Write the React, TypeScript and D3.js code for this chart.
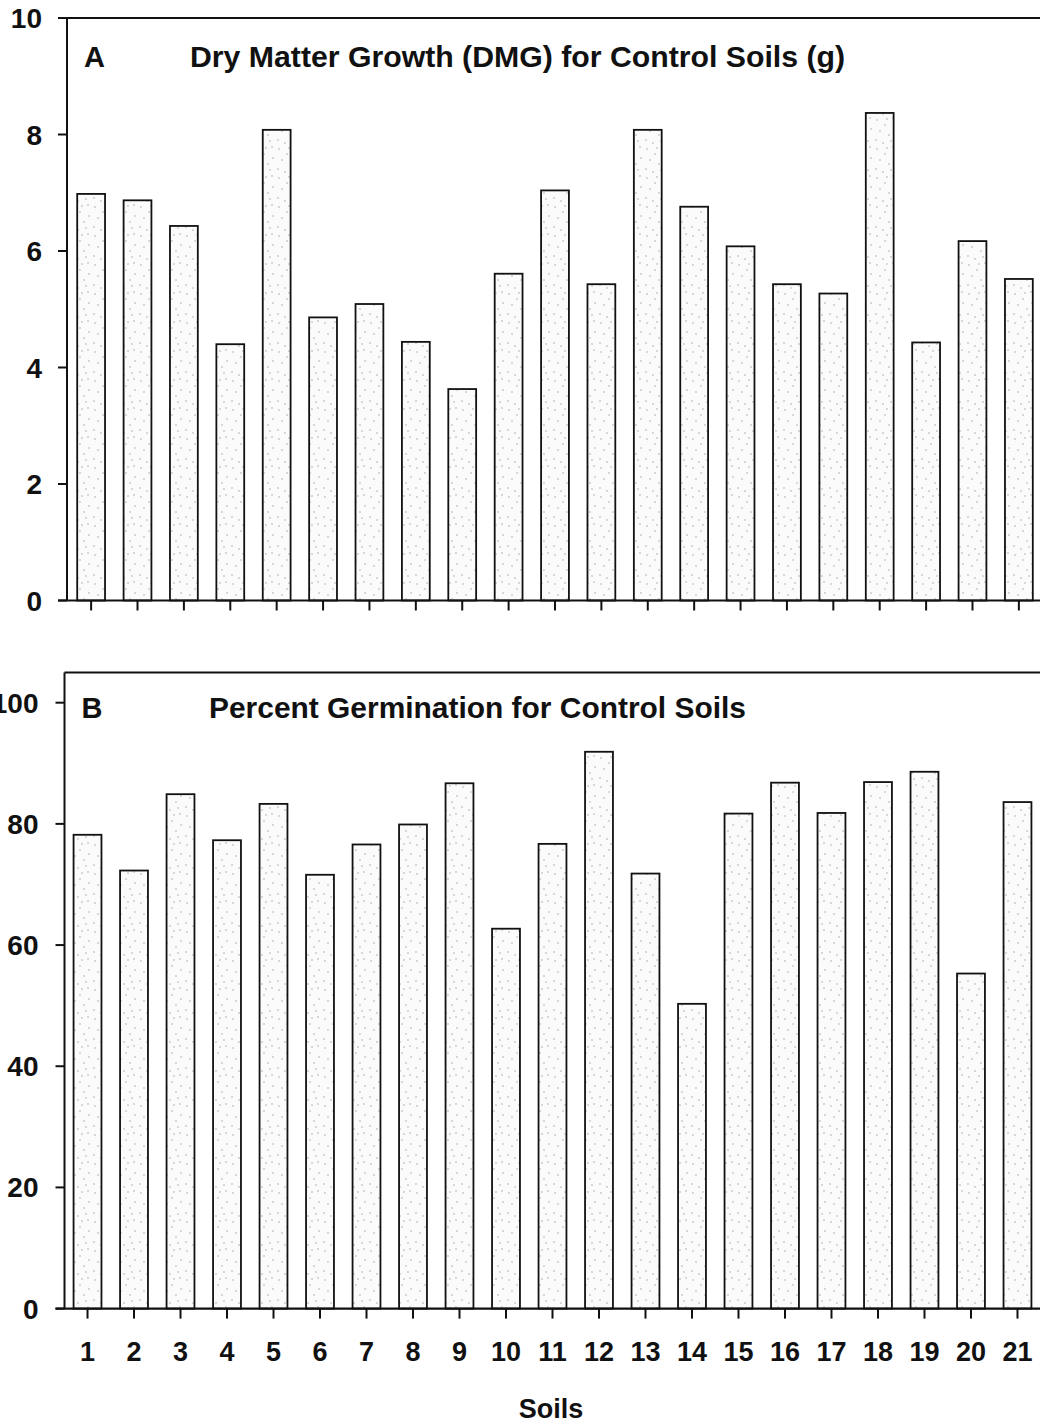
import React from "react";
import * as d3 from "d3";

const soils: string[] = Array.from({ length: 21 }, (_, i) => String(i + 1));
const dmgValues: number[] = [6.98, 6.87, 6.43, 4.4, 8.08, 4.86, 5.09, 4.44, 3.63, 5.61, 7.04, 5.43, 8.08, 6.76, 6.08, 5.43, 5.27, 8.37, 4.43, 6.17, 5.52];
const germValues: number[] = [78.2, 72.3, 84.9, 77.3, 83.3, 71.6, 76.6, 79.9, 86.7, 62.7, 76.7, 91.9, 71.8, 50.3, 81.7, 86.8, 81.8, 86.9, 88.6, 55.3, 83.6];
const dmgTicks: number[] = [0, 2, 4, 6, 8, 10];
const germTicks: number[] = [0, 20, 40, 60, 80, 100];
const titleA = "Dry Matter Growth (DMG) for Control Soils (g)";
const titleB = "Percent Germination for Control Soils";
const xAxisTitle = "Soils";

const FONT = "'Liberation Sans', Arial, Helvetica, sans-serif";

const dots: [number, number][] = [
  [3, 4], [11, 9], [19, 2], [6, 15], [15, 19], [2, 24], [9, 27], [20, 13], [13, 3], [17, 25],
];

type PanelProps = {
  values: number[];
  ticks: number[];
  yMax: number;
  x0: number;
  x1: number;
  padOuter: number;
  yBottom: number;
  yTop: number;
  letter: string;
  title: string;
  titleX: number;
  titleLen: number;
  titleY: number;
  showXLabels: boolean;
  labelDx: number;
};

function Panel(p: PanelProps) {
  const x = d3.scaleBand<string>().domain(soils).range([p.x0, p.x1]).paddingInner(0.4).paddingOuter(p.padOuter);
  const y = d3.scaleLinear().domain([0, p.yMax]).range([p.yBottom, p.yTop]);
  const bw = x.bandwidth();
  return (
    <g>
      {p.values.map((v, i) => (
        <rect
          key={i}
          x={x(soils[i])!}
          y={y(v)}
          width={bw}
          height={y(0) - y(v)}
          fill="url(#stipple)"
          stroke="#111"
          strokeWidth={1.8}
        />
      ))}
      <line x1={p.x0} x2={1040} y1={p.yTop} y2={p.yTop} stroke="#111" strokeWidth={2} />
      <line x1={p.x0} x2={p.x0} y1={p.yTop} y2={p.yBottom} stroke="#111" strokeWidth={2} />
      <line x1={p.x0 - 9} x2={1040} y1={p.yBottom} y2={p.yBottom} stroke="#111" strokeWidth={2.2} />
      {p.ticks.map((t) => (
        <g key={t}>
          <line x1={p.x0 - 9} x2={p.x0} y1={y(t)} y2={y(t)} stroke="#111" strokeWidth={2} />
          <text
            x={p.x0 - p.labelDx}
            y={y(t)}
            dy="0.36em"
            textAnchor="end"
            fontFamily={FONT}
            fontWeight="bold"
            fontSize={28}
            fill="#111"
          >
            {t}
          </text>
        </g>
      ))}
      {soils.map((s) => {
        const cx = x(s)! + bw / 2;
        return (
          <g key={s}>
            <line x1={cx} x2={cx} y1={p.yBottom} y2={p.yBottom + 10} stroke="#111" strokeWidth={2} />
            {p.showXLabels && (
              <text x={cx} y={1361} textAnchor="middle" fontFamily={FONT} fontWeight="bold" fontSize={27} fill="#111">
                {s}
              </text>
            )}
          </g>
        );
      })}
      <text x={p.x0 + 17} y={p.titleY} fontFamily={FONT} fontWeight="bold" fontSize={29} fill="#111">
        {p.letter}
      </text>
      <text
        x={p.titleX}
        y={p.titleY}
        fontFamily={FONT}
        fontWeight="bold"
        fontSize={30}
        fill="#111"
        textLength={p.titleLen}
        lengthAdjust="spacingAndGlyphs"
      >
        {p.title}
      </text>
    </g>
  );
}

export default function App() {
  return (
    <div style={{ position: "absolute", left: 0, top: 0, width: 1040, height: 1425, background: "#fff" }}>
      <svg width={1040} height={1425} viewBox="0 0 1040 1425" style={{ display: "block" }}>
        <defs>
          <pattern id="stipple" width={23} height={29} patternUnits="userSpaceOnUse">
            <rect width={23} height={29} fill="#fbfbfb" />
            {dots.map(([dx, dy], i) => (
              <circle key={i} cx={dx} cy={dy} r={0.7} fill="#9a9a9a" />
            ))}
          </pattern>
        </defs>
        <rect width={1040} height={1425} fill="#fff" />
        <Panel
          values={dmgValues}
          ticks={dmgTicks}
          yMax={10}
          x0={67}
          x1={1043}
          padOuter={0.22}
          yBottom={600.5}
          yTop={18}
          letter="A"
          title={titleA}
          titleX={190}
          titleLen={655}
          titleY={67}
          showXLabels={false}
          labelDx={25}
        />
        <Panel
          values={germValues}
          ticks={germTicks}
          yMax={105}
          x0={64.5}
          x1={1040.5}
          padOuter={0.195}
          yBottom={1308.6}
          yTop={672.4}
          letter="B"
          title={titleB}
          titleX={209}
          titleLen={537}
          titleY={718}
          showXLabels={true}
          labelDx={26}
        />
        <text x={551} y={1418} textAnchor="middle" fontFamily={FONT} fontWeight="bold" fontSize={27} fill="#111">
          {xAxisTitle}
        </text>
      </svg>
    </div>
  );
}
